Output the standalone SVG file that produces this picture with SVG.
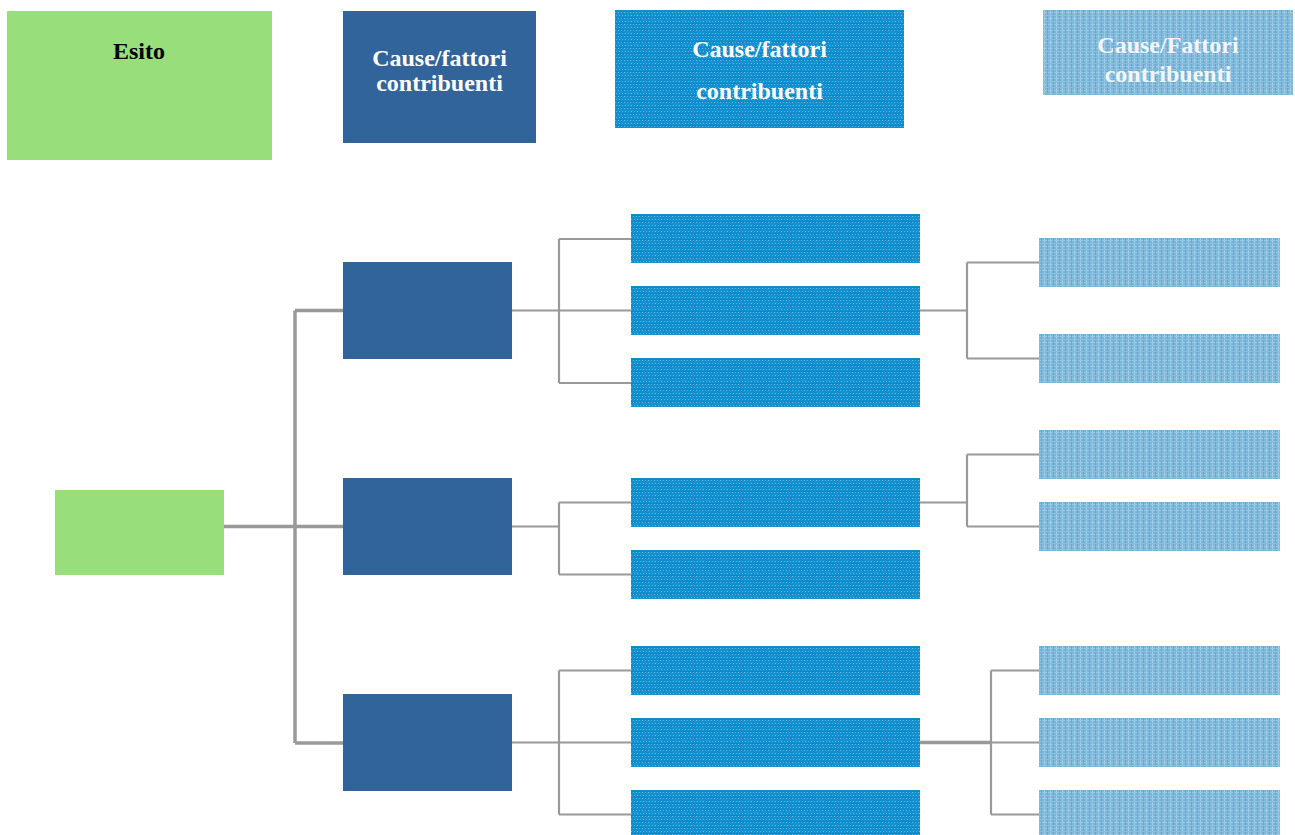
<svg xmlns="http://www.w3.org/2000/svg" width="1295" height="835" viewBox="0 0 1295 835">
<style>
.green{fill:#98DE7B}
.dark{fill:#31649B}
.mid{fill:url(#pMid)}
.light{fill:url(#pLight)}
.t{font-family:"Liberation Serif","Times New Roman",serif;font-weight:bold;font-size:24px;text-anchor:middle}
.tw{fill:#FFFFFF}
.tl{fill:#F2F6FA}
.thick{fill:none;stroke:#999999;stroke-width:3.5}
.thin{fill:none;stroke:#999999;stroke-width:2.2}
</style>
<defs>
<pattern id="pMid" x="0" y="0" width="6" height="6" patternUnits="userSpaceOnUse">
<rect width="6" height="6" fill="#1290CF"/>
<rect x="0" y="0" width="1" height="1" fill="#6CBBE3"/>
<rect x="3" y="0" width="1" height="1" fill="#4FAEDD"/>
<rect x="1" y="3" width="1" height="1" fill="#6CBBE3"/>
<rect x="4" y="3" width="1" height="1" fill="#4FAEDD"/>
<rect x="0" y="5" width="6" height="1" fill="#0A88C8"/>
</pattern>
<pattern id="pLight" x="0" y="0" width="6" height="6" patternUnits="userSpaceOnUse">
<rect width="6" height="6" fill="#78B6DA"/>
<rect x="0" y="0" width="1" height="6" fill="#A0CCE8"/>
<rect x="0" y="0" width="6" height="1" fill="#9AC8E5"/>
<rect x="3" y="0" width="1" height="6" fill="#64ABD5"/>
<rect x="0" y="3" width="6" height="1" fill="#88C0E1"/>
</pattern>
</defs>

<g id="header-esito"><rect class="green" x="7" y="11" width="265" height="149"/><text class="t" x="139" y="59" fill="#000">Esito</text></g>
<g id="header-cause1"><rect class="dark" x="343" y="11" width="193" height="132"/><text class="t tw" x="439.5" y="66">Cause/fattori</text><text class="t tw" x="439.5" y="91">contribuenti</text></g>
<g id="header-cause2"><rect class="mid" x="615" y="10" width="289" height="118"/><text class="t tw" x="759.5" y="57">Cause/fattori</text><text class="t tw" x="759.5" y="99">contribuenti</text></g>
<g id="header-cause3"><rect class="light" x="1043" y="10" width="250" height="85"/><text class="t tl" x="1168" y="53">Cause/Fattori</text><text class="t tl" x="1168" y="82">contribuenti</text></g>

<g id="connectors">
<path class="thick" d="M224 526.5 H343 M295 310.5 V743 M295 310.5 H343 M295 743 H343"/>
<path class="thin" d="M512 310.5 H631 M559 239 V383 M559 239 H631 M559 383 H631"/>
<path class="thin" d="M512 526.5 H559 M559 502.5 V574.5 M559 502.5 H631 M559 574.5 H631"/>
<path class="thin" d="M512 742.5 H631 M559 670.5 V814.5 M559 670.5 H631 M559 814.5 H631"/>
<path class="thin" d="M920 310.5 H967 M967 262.5 V358.5 M967 262.5 H1039 M967 358.5 H1039"/>
<path class="thin" d="M920 502.5 H967 M967 454.5 V526.5 M967 454.5 H1039 M967 526.5 H1039"/>
<path class="thick" d="M920 742.5 H991"/>
<path class="thin" d="M991 742.5 H1039 M991 670.5 V814.5 M991 670.5 H1039 M991 814.5 H1039"/>
</g>

<g id="esito"><rect class="green" x="55" y="490" width="169" height="85"/></g>
<g id="cause-a"><rect class="dark" x="343" y="262" width="169" height="97"/></g>
<g id="cause-b"><rect class="dark" x="343" y="478" width="169" height="97"/></g>
<g id="cause-c"><rect class="dark" x="343" y="694" width="169" height="97"/></g>

<g id="a1"><rect class="mid" x="631" y="214" width="289" height="49"/></g>
<g id="a2"><rect class="mid" x="631" y="286" width="289" height="49"/></g>
<g id="a3"><rect class="mid" x="631" y="358" width="289" height="49"/></g>
<g id="b1"><rect class="mid" x="631" y="478" width="289" height="49"/></g>
<g id="b2"><rect class="mid" x="631" y="550" width="289" height="49"/></g>
<g id="c1"><rect class="mid" x="631" y="646" width="289" height="49"/></g>
<g id="c2"><rect class="mid" x="631" y="718" width="289" height="49"/></g>
<g id="c3"><rect class="mid" x="631" y="790" width="289" height="49"/></g>

<g id="a2-1"><rect class="light" x="1039" y="238" width="241" height="49"/></g>
<g id="a2-2"><rect class="light" x="1039" y="334" width="241" height="49"/></g>
<g id="b1-1"><rect class="light" x="1039" y="430" width="241" height="49"/></g>
<g id="b1-2"><rect class="light" x="1039" y="502" width="241" height="49"/></g>
<g id="c2-1"><rect class="light" x="1039" y="646" width="241" height="49"/></g>
<g id="c2-2"><rect class="light" x="1039" y="718" width="241" height="49"/></g>
<g id="c2-3"><rect class="light" x="1039" y="790" width="241" height="49"/></g>
</svg>
